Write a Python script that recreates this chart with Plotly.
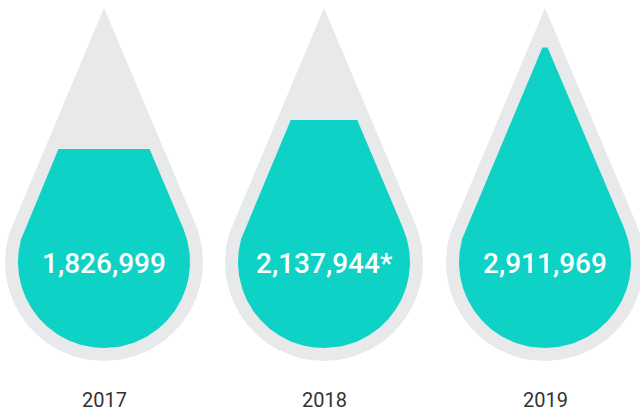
import numpy as np
import plotly.graph_objects as go

years = ["2017", "2018", "2019"]
values = [1826999, 2137944, 2911969]
labels = ["1,826,999", "2,137,944*", "2,911,969"]

W, H = 640, 414
centers_x = [104, 324, 545]
TIP_Y = 8
CIRCLE_Y = 262
R_OUT = 99
INSET = 13
FILL_BASE = 28.0      # px of fill at zero value
FILL_SCALE = 93.6e-6  # px per unit value

GRAY = "#E8E9EB"
TEAL = "#0ED2C6"


def drop_halfwidth(y, tip, cy, r):
    d = cy - tip
    yt = cy - r * r / d
    sin_a = r / d
    tan_a = sin_a / np.sqrt(1 - sin_a ** 2)
    if y <= tip:
        return 0.0
    if y <= yt:
        return (y - tip) * tan_a
    return float(np.sqrt(max(r * r - (y - cy) ** 2, 0.0)))


def drop_polygon(cx, tip, cy, r, top=None):
    bottom = cy + r
    start = tip if top is None else max(top, tip)
    ys = np.linspace(start, bottom, 300)
    hw = np.array([drop_halfwidth(y, tip, cy, r) for y in ys])
    xs = np.concatenate([cx - hw, (cx + hw)[::-1]])
    yy = np.concatenate([ys, ys[::-1]])
    return xs, yy


fig = go.Figure()

d_out = CIRCLE_Y - TIP_Y
sin_a = R_OUT / d_out
r_in = R_OUT - INSET
tip_in = TIP_Y + INSET / sin_a
bottom_in = CIRCLE_Y + r_in

for cx, v, lab, yr in zip(centers_x, values, labels, years):
    xs, ys = drop_polygon(cx, TIP_Y, CIRCLE_Y, R_OUT)
    fig.add_trace(go.Scatter(x=xs, y=ys, fill="toself", fillcolor=GRAY,
                             line=dict(width=0), mode="lines", hoverinfo="skip",
                             showlegend=False))
    level = bottom_in - (FILL_BASE + v * FILL_SCALE)
    xs, ys = drop_polygon(cx, tip_in, CIRCLE_Y, r_in, top=level)
    fig.add_trace(go.Scatter(x=xs, y=ys, fill="toself", fillcolor=TEAL,
                             line=dict(width=0), mode="lines", hoverinfo="text",
                             text=f"{yr}: {lab}", showlegend=False))
    fig.add_annotation(x=cx, y=263, text=lab, showarrow=False,
                       font=dict(family="Roboto", size=28, color="white", weight=500),
                       xanchor="center", yanchor="middle")
    fig.add_annotation(x=cx, y=400, text=yr, showarrow=False,
                       font=dict(family="Roboto", size=20, color="#333333"),
                       xanchor="center", yanchor="middle")

fig.update_layout(
    width=W, height=H,
    margin=dict(l=0, r=0, t=0, b=0),
    paper_bgcolor="white", plot_bgcolor="white",
    xaxis=dict(range=[0, W], visible=False, fixedrange=True),
    yaxis=dict(range=[H, 0], visible=False, fixedrange=True),
)

fig.write_html("out.html", config={"displayModeBar": False},
               post_script="document.body.style.margin='0';document.body.style.overflow='hidden';")
